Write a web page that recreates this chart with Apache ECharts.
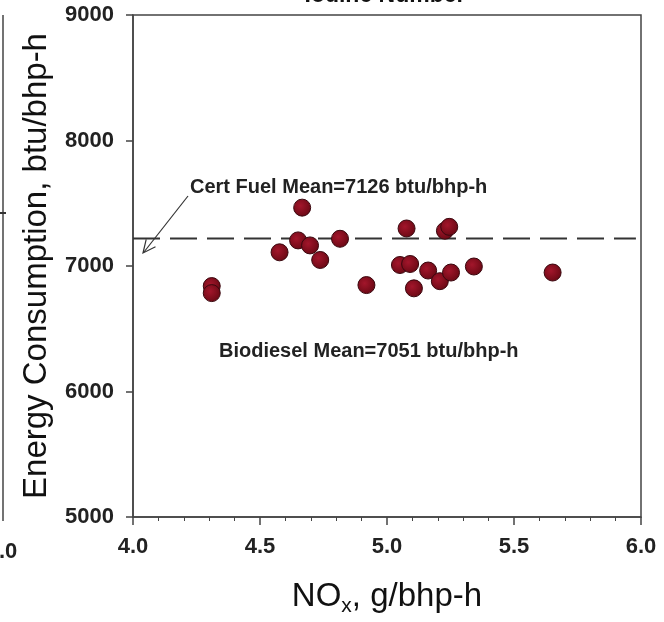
<!DOCTYPE html>
<html>
<head>
<meta charset="utf-8">
<script src="https://cdn.jsdelivr.net/npm/echarts@6/dist/echarts.min.js"></script>
<style>
html, body { margin: 0; padding: 0; background: #fff; }
#main { width: 664px; height: 622px; }
</style>
</head>
<body>
<div id="main"></div>
<script>
// NOx (g/bhp-h) vs energy consumption (btu/bhp-h)
var noxData = [4.31, 4.31, 4.666, 4.577, 4.650, 4.697, 4.737, 4.815, 4.919, 5.077,
               5.051, 5.091, 5.106, 5.162, 5.208, 5.228, 5.245, 5.252, 5.342, 5.652];
var energyData = [6840, 6784, 7465, 7109, 7204, 7164, 7048, 7217, 6848, 7299,
                  7008, 7016, 6822, 6964, 6879, 7281, 7312, 6948, 6996, 6948];
var certLine = [[4.0, 7220], [5.98, 7220]];
var xTicks = [4.0, 4.5, 5.0, 5.5, 6.0];
var yTicks = [5000, 6000, 7000, 8000, 9000];

var fontFam = 'Liberation Sans, Arial, sans-serif';
var axisColor = '#444';

var points = [];
for (var i = 0; i < noxData.length; i++) {
	points.push([noxData[i], energyData[i]]);
}

var myChart = echarts.init(document.getElementById('main'));

var option = {
	backgroundColor: '#fff',
	animation: false,
	grid: {
		left: 133,
		right: 23,
		top: 15,
		bottom: 101,
		show: true,
		borderColor: axisColor,
		borderWidth: 1.5
	},
	xAxis: {
		type: 'value',
		min: xTicks[0],
		max: xTicks[xTicks.length - 1],
		interval: 0.5,
		name: 'NO{sub|x}, g/bhp-h',
		nameLocation: 'middle',
		nameGap: 59,
		nameTextStyle: {
			fontFamily: fontFam,
			fontSize: 33,
			color: '#111',
			rich: {
				sub: { fontFamily: fontFam, fontSize: 21, color: '#111', verticalAlign: 'bottom', padding: [20, 0, 0, 0] }
			}
		},
		axisLine: { show: true, lineStyle: { color: axisColor, width: 1.5 } },
		axisTick: { show: true, length: 8, lineStyle: { color: axisColor, width: 1.5 } },
		minorTick: { show: true, splitNumber: 5, length: 4, lineStyle: { color: axisColor, width: 1 } },
		splitLine: { show: false },
		axisLabel: {
			margin: 19,
			fontFamily: fontFam,
			fontSize: 22,
			fontWeight: 'bold',
			color: '#222',
			formatter: function (v) { return v.toFixed(1); }
		}
	},
	yAxis: {
		type: 'value',
		min: yTicks[0],
		max: yTicks[yTicks.length - 1],
		interval: 1000,
		name: 'Energy Consumption, btu/bhp-h',
		nameLocation: 'middle',
		nameGap: 80,
		nameTextStyle: { fontFamily: fontFam, fontSize: 33, color: '#111' },
		axisLine: { show: true, lineStyle: { color: axisColor, width: 1.5 } },
		axisTick: { show: true, length: 7, lineStyle: { color: axisColor, width: 1.5 } },
		splitLine: { show: false },
		axisLabel: {
			margin: 19,
			fontFamily: fontFam,
			fontSize: 22,
			fontWeight: 'bold',
			color: '#222',
			formatter: function (v) { return String(v); }
		}
	},
	series: [
		{
			name: 'Cert Fuel Mean',
			type: 'line',
			data: certLine,
			symbol: 'none',
			silent: true,
			lineStyle: { color: '#333', width: 2, type: [27, 10] },
			z: 1
		},
		{
			name: 'Biodiesel',
			type: 'scatter',
			data: points,
			symbolSize: 17,
			itemStyle: {
				color: new echarts.graphic.RadialGradient(0.4, 0.4, 0.6, [
					{ offset: 0, color: '#a3162b' },
					{ offset: 1, color: '#6c0915' }
				]),
				borderColor: '#3a070e',
				borderWidth: 1,
				opacity: 1
			},
			z: 3
		}
	],
	graphic: [
		// cut-off title of the panel
		{ type: 'text', x: 385, y: 7, style: { text: 'Iodine Number', fill: '#111', font: 'bold 23px ' + fontFam, align: 'center', verticalAlign: 'bottom' } },
		// annotations
		{ type: 'text', x: 190, y: 187, style: { text: 'Cert Fuel Mean=7126 btu/bhp-h', fill: '#222', font: 'bold 20px ' + fontFam, verticalAlign: 'middle' } },
		{ type: 'text', x: 219, y: 351, style: { text: 'Biodiesel Mean=7051 btu/bhp-h', fill: '#222', font: 'bold 20px ' + fontFam, verticalAlign: 'middle' } },
		{ type: 'line', shape: { x1: 188, y1: 196, x2: 144, y2: 252 }, style: { stroke: '#333', lineWidth: 1.2 } },
		{ type: 'polyline', shape: { points: [[155.5, 246.7], [143, 253], [146.2, 239.4]] }, style: { stroke: '#333', lineWidth: 1.2, fill: null } },
		// edge of the neighbouring panel on the left
		{ type: 'line', shape: { x1: 3, y1: 15, x2: 3, y2: 521 }, style: { stroke: axisColor, lineWidth: 1.5 } },
		{ type: 'line', shape: { x1: 0, y1: 213, x2: 6, y2: 213 }, style: { stroke: '#333', lineWidth: 2 } },
		{ type: 'text', x: 2, y: 552, style: { text: '6.0', fill: '#222', font: 'bold 22px ' + fontFam, align: 'center', verticalAlign: 'middle' } }
	]
};

myChart.setOption(option);
</script>
</body>
</html>
